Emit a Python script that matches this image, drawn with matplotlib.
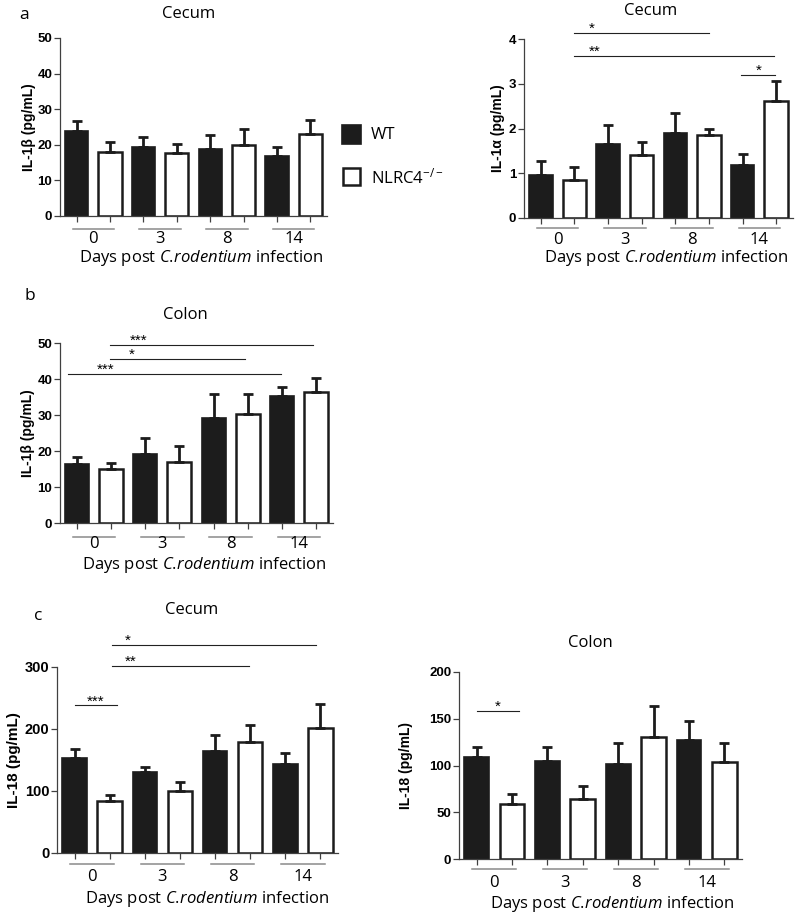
import matplotlib
matplotlib.use('Agg')
import matplotlib.pyplot as plt
import numpy as np
from matplotlib.patches import Rectangle

plt.rcParams['font.family'] = ['Open Sans', 'DejaVu Sans']
plt.rcParams['mathtext.fontset'] = 'custom'
plt.rcParams['mathtext.rm'] = 'Open Sans'
plt.rcParams['mathtext.it'] = 'Open Sans:italic'

days = ['0', '3', '8', '14']

# a: cecum IL-1b
cec_il1b_wt = [23.9, 19.3, 18.9, 16.8]
cec_il1b_wt_err = [2.9, 2.9, 3.8, 2.5]
cec_il1b_ko = [18.1, 17.6, 19.9, 23.1]
cec_il1b_ko_err = [2.8, 2.5, 4.6, 3.9]

# a: cecum IL-1a
cec_il1a_wt = [0.95, 1.65, 1.90, 1.19]
cec_il1a_wt_err = [0.33, 0.43, 0.44, 0.23]
cec_il1a_ko = [0.855, 1.41, 1.85, 2.62]
cec_il1a_ko_err = [0.275, 0.29, 0.14, 0.45]

# b: colon IL-1b
col_il1b_wt = [16.3, 19.3, 29.1, 35.4]
col_il1b_wt_err = [2.0, 4.3, 6.6, 2.3]
col_il1b_ko = [15.0, 16.9, 30.2, 36.3]
col_il1b_ko_err = [1.7, 4.6, 5.5, 4.1]

# c: cecum IL-18
cec_il18_wt = [154, 131, 165, 143]
cec_il18_wt_err = [14, 8, 26, 18]
cec_il18_ko = [84, 100, 179, 201]
cec_il18_ko_err = [9, 14, 28, 39]

# c: colon IL-18
col_il18_wt = [109, 105, 102, 127]
col_il18_wt_err = [11, 15, 22, 21]
col_il18_ko = [59, 64, 130, 104]
col_il18_ko_err = [10, 14, 34, 20]

# significance bars: (from, to, y, stars, star x)  -- x in bar slots
sig_il1a = [(0.98, 5, 4.13, '*', 1.52), (0.98, 6.93, 3.62, '**', 1.59), (5.94, 6.95, 3.2, '*', 6.48)]
sig_col_il1b = [(0.97, 6.9, 49.4, '***', 1.79), (0.97, 4.93, 45.6, '*', 1.61), (-0.26, 5.98, 41.5, '***', 0.85)]
sig_cec_il18 = [(1.07, 6.88, 336, '*', 1.52), (1.07, 4.97, 301.5, '**', 1.6), (0, 1.2, 238, '***', 0.61)]
sig_col_il18 = [(0, 1.2, 158.8, '*', 0.6)]

W, H = 800, 918
fig = plt.figure(figsize=(W / 100, H / 100), dpi=100)

def add_ax(l, t, r, b):
    # pixel box -> figure fraction
    return fig.add_axes([l / W, 1 - b / H, (r - l) / W, (b - t) / H])

def panel(ax, wt, wt_err, ko, ko_err, ymax, ystep, ylabel, ylab_x, sigs, offs, ylab_size=10, tick_size=9.5):
    hpx = ax.get_position().height * H
    wpx = ax.get_position().width * W
    wt_x = np.arange(4) * 2
    ko_x = wt_x + 1
    ax.bar(wt_x, wt, 0.7, color='#1c1c1c', edgecolor='#1c1c1c', lw=1.2, zorder=2)
    ax.bar(ko_x, ko, 0.7, color='white', edgecolor='#1c1c1c', lw=1.8, zorder=2)
    ax.errorbar(wt_x, wt, yerr=[np.zeros(4), wt_err], fmt='none', ecolor='#1c1c1c',
                elinewidth=2, capsize=3.7, capthick=2, zorder=3)
    ax.errorbar(ko_x, ko, yerr=[np.zeros(4), ko_err], fmt='none', ecolor='#1c1c1c',
                elinewidth=2, capsize=3.7, capthick=2, zorder=3)
    ax.set_xlim(-0.5, 7.5)
    ax.set_ylim(0, ymax)
    for s in ['top', 'right']:
        ax.spines[s].set_visible(False)
    for s in ['left', 'bottom']:
        ax.spines[s].set_color('#404040')
        ax.spines[s].set_linewidth(0.9)
    ax.set_xticks(np.arange(8))
    ax.tick_params(axis='x', length=4, width=0.9, color='#404040', labelbottom=False)
    ax.set_yticks(np.arange(0, ymax + ystep / 2, ystep))
    ax.tick_params(axis='y', length=4, width=0.9, color='#404040', pad=1.5, labelsize=tick_size)
    plt.setp(ax.get_yticklabels(), fontfamily='Liberation Sans', fontweight='bold')
    ax.set_ylabel(ylabel, fontfamily='Liberation Sans', fontweight='bold', fontsize=ylab_size, va='center')
    ax.yaxis.set_label_coords(ylab_x, 0.5)

    u, g, xl, dx = offs
    tr = ax.get_xaxis_transform()
    for i in range(4):
        ax.plot([2 * i - 0.12, 2 * i + 1.12], [-u / hpx] * 2, transform=tr,
                color='#8a8a8a', lw=1.1, clip_on=False)
        ax.text(2 * i + 0.5, -g / hpx, days[i], transform=tr, ha='center', va='center', fontsize=12)
    ax.text(0.5 + dx / wpx, -xl / hpx, 'Days post $\\mathit{C.\\!rodentium}$ infection',
            transform=ax.transAxes, ha='center', va='center', fontsize=12)

    for x1, x2, y, st, sx in sigs:
        ax.plot([x1, x2], [y, y], color='#222222', lw=0.8, clip_on=False)
        ax.text(sx, y, st, ha='center', va='baseline', fontsize=11,
                fontfamily='Liberation Sans', clip_on=False)

ax1 = add_ax(60, 38, 327, 216)
panel(ax1, cec_il1b_wt, cec_il1b_wt_err, cec_il1b_ko, cec_il1b_ko_err, 50, 10,
      'IL-1β (pg/mL)', -0.116, [], (13, 23, 42, 8))

ax2 = add_ax(524, 39, 793, 218)
panel(ax2, cec_il1a_wt, cec_il1a_wt_err, cec_il1a_ko, cec_il1a_ko_err, 4, 1,
      'IL-1α (pg/mL)', -0.097, sig_il1a, (10, 22, 40, 8))

ax3 = add_ax(60, 343, 333, 523)
panel(ax3, col_il1b_wt, col_il1b_wt_err, col_il1b_ko, col_il1b_ko_err, 50, 10,
      'IL-1β (pg/mL)', -0.117, sig_col_il1b, (14, 21, 42, 8))

ax4 = add_ax(57, 667, 338, 853)
panel(ax4, cec_il18_wt, cec_il18_wt_err, cec_il18_ko, cec_il18_ko_err, 300, 100,
      'IL-18 (pg/mL)', -0.153, sig_cec_il18, (11, 24, 46, 10), ylab_size=11, tick_size=10.5)

ax5 = add_ax(459, 672, 742, 859)
panel(ax5, col_il18_wt, col_il18_wt_err, col_il18_ko, col_il18_ko_err, 200, 50,
      'IL-18 (pg/mL)', -0.187, sig_col_il18, (10, 24, 45, 12))

# titles and panel letters
def ftext(x, y, s, **kw):
    fig.text(x / W, 1 - y / H, s, ha='center', va='center', **kw)

ftext(189, 14, 'Cecum', fontsize=12)
ftext(651, 11, 'Cecum', fontsize=12)
ftext(185, 315, 'Colon', fontsize=12)
ftext(192, 610, 'Cecum', fontsize=12)
ftext(590, 643, 'Colon', fontsize=12)
ftext(24, 15, 'a', fontsize=12.5)
ftext(30, 296, 'b', fontsize=12.5)
ftext(38, 616, 'c', fontsize=12.5)

# legend
fig.add_artist(Rectangle((342 / W, 1 - 144 / H), 19 / W, 19 / H, transform=fig.transFigure,
                         facecolor='#1c1c1c', edgecolor='#1c1c1c', lw=1.2))
fig.add_artist(Rectangle((343 / W, 1 - 185 / H), 17 / W, 17 / H, transform=fig.transFigure,
                         facecolor='white', edgecolor='#1c1c1c', lw=1.8))
fig.text(371 / W, 1 - 135 / H, 'WT', ha='left', va='center', fontsize=12)
fig.text(371 / W, 1 - 177 / H, 'NLRC4$^{-/-}$', ha='left', va='center', fontsize=12)

fig.savefig('out.png', dpi=100)
